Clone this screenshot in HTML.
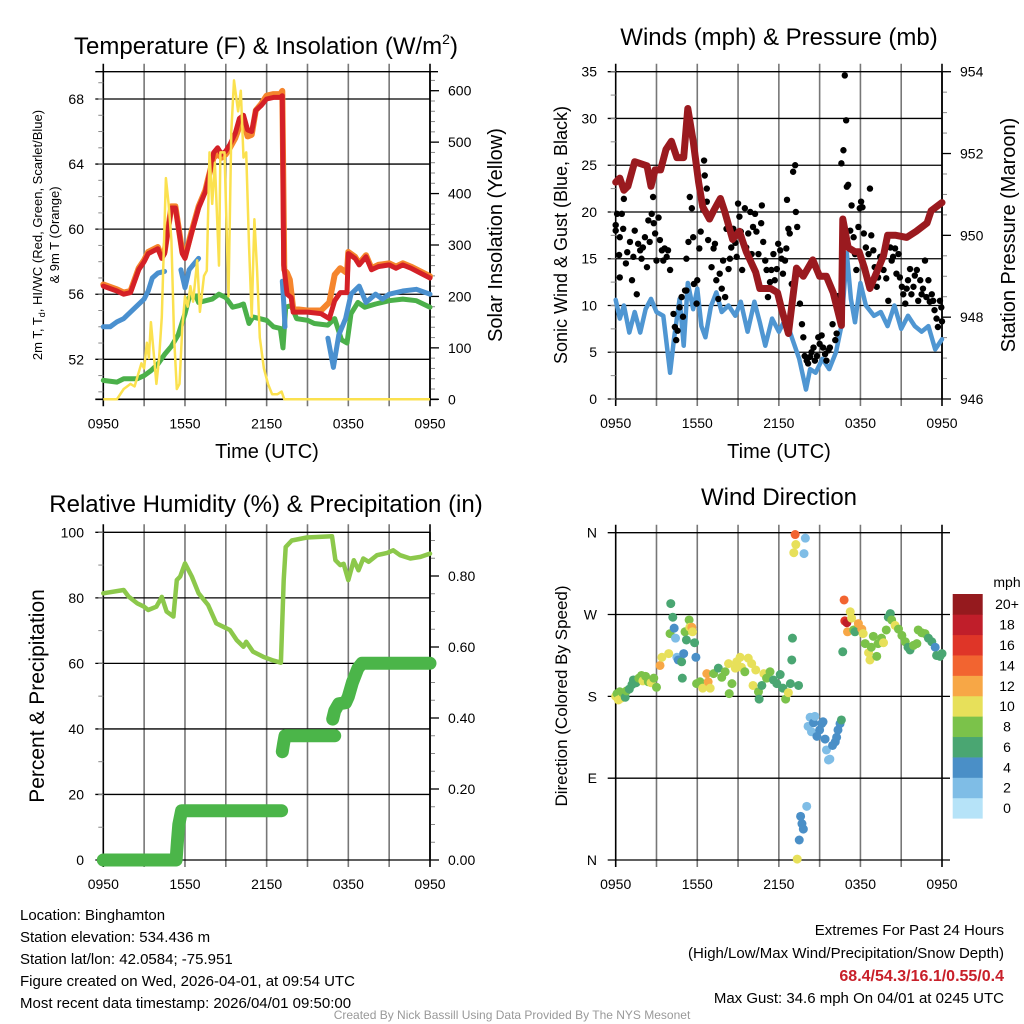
<!DOCTYPE html>
<html><head><meta charset="utf-8">
<style>
body{margin:0;background:#fff;}
svg{display:block;font-family:"Liberation Sans",sans-serif;}
</style></head>
<body>
<svg id="chart" width="1024" height="1024" viewBox="0 0 1024 1024" xmlns="http://www.w3.org/2000/svg">
<rect x="0" y="0" width="1024" height="1024" fill="#fff"/>
<g id="p1"></g>
<g id="p2"></g>
<g id="p3"></g>
<g id="p4"></g>

<text x="266" y="54" font-size="24" text-anchor="middle">Temperature (F) &amp; Insolation (W/m<tspan font-size="14" dy="-10">2</tspan><tspan dy="10">)</tspan></text>
<text x="779" y="45" font-size="24" text-anchor="middle">Winds (mph) &amp; Pressure (mb)</text>
<text x="266" y="512" font-size="24" text-anchor="middle">Relative Humidity (%) &amp; Precipitation (in)</text>
<text x="779" y="505" font-size="24" text-anchor="middle">Wind Direction</text>

<text x="267" y="458" font-size="20" text-anchor="middle">Time (UTC)</text>
<text x="779" y="458" font-size="20" text-anchor="middle">Time (UTC)</text>

<text transform="translate(42,235) rotate(-90)" font-size="13" text-anchor="middle">2m T, T<tspan font-size="9" dy="3">d</tspan><tspan dy="-3">, HI/WC (Red, Green, Scarlet/Blue)</tspan></text>
<text transform="translate(59,235) rotate(-90)" font-size="13" text-anchor="middle">&amp; 9m T (Orange)</text>
<text transform="translate(502,235) rotate(-90)" font-size="20" text-anchor="middle">Solar Insolation (Yellow)</text>
<text transform="translate(567,235) rotate(-90)" font-size="18" text-anchor="middle">Sonic Wind &amp; Gust (Blue, Black)</text>
<text transform="translate(1015,235) rotate(-90)" font-size="20" text-anchor="middle">Station Pressure (Maroon)</text>
<text transform="translate(44,696) rotate(-90)" font-size="21" text-anchor="middle">Percent &amp; Precipitation</text>
<text transform="translate(567,696) rotate(-90)" font-size="17" text-anchor="middle">Direction (Colored By Speed)</text>

<g font-size="15">
<text x="20" y="920">Location: Binghamton</text>
<text x="20" y="942">Station elevation: 534.436 m</text>
<text x="20" y="964">Station lat/lon: 42.0584; -75.951</text>
<text x="20" y="986">Figure created on Wed, 2026-04-01, at 09:54 UTC</text>
<text x="20" y="1008">Most recent data timestamp: 2026/04/01 09:50:00</text>
</g>
<g font-size="15" text-anchor="end">
<text x="1004" y="935">Extremes For Past 24 Hours</text>
<text x="1004" y="958">(High/Low/Max Wind/Precipitation/Snow Depth)</text>
<text x="1004" y="981" fill="#c8202a" font-weight="bold" font-size="16">68.4/54.3/16.1/0.55/0.4</text>
<text x="1004" y="1003">Max Gust: 34.6 mph On 04/01 at 0245 UTC</text>
</g>
<text x="512" y="1019" font-size="12" fill="#999" text-anchor="middle">Created By Nick Bassill Using Data Provided By The NYS Mesonet</text>
</svg>

<script>
// ---------- data ----------
const timeTicks = ["0950","1550","2150","0350","0950"];
// Panel 1 temperatures (hours since 0950, degF)
const redH = [0,1,1.5,2,2.6,3,3.3,4,4.3,4.5,5,5.3,5.8,6,6.5,7,7.5,7.7,8.1,8.4,8.7,9,9.3,9.7,10,10.3,10.6,10.9,11.2,11.6,12,12.5,13,13.15,13.25,13.5,13.8,13.95,15,16,16.6,17,17.4,17.9,18.0,18.5,18.8,19.3,19.7,20.2,21,21.5,22,22.6,23.3,24];
const redV = [56.5,56.2,56.0,56.1,57.5,58.0,58.5,58.8,58.2,58.5,61.3,61.3,58.5,58.2,59.8,61.3,62.3,63.0,64.7,65.0,64.6,64.8,65.2,65.9,66.8,67.0,66.1,66.0,67.3,67.6,68.0,68.1,68.1,68.2,57.8,56.0,55.8,54.9,54.9,54.8,54.5,55.6,56.1,56.1,58.5,58.2,57.8,58.3,57.5,57.7,57.8,57.6,57.8,57.6,57.3,57.0];
const orangeH = [0,1,1.5,2,2.6,3,3.3,4,4.3,4.5,5,5.3,5.8,6,6.5,7,7.5,7.7,8.1,8.4,8.7,9,9.3,9.7,10,10.3,10.6,10.9,11.2,11.6,12,12.5,13,13.15,13.3,13.5,13.7,13.95,15,16,16.6,17,17.4,17.9,18.0,18.5,18.8,19.3,19.7,20.2,21,21.5,22,22.6,23.3,24];
const orangeV = [56.6,56.3,56.1,56.2,57.6,58.1,58.6,58.9,58.3,58.6,61.4,61.4,58.6,58.3,59.9,61.4,62.4,63.1,64.4,64.6,64.4,64.6,65.0,65.6,66.3,66.6,65.7,65.8,67.3,67.7,68.2,68.3,68.3,68.5,57.5,57.3,56.9,55.1,55.0,55.0,55.5,57.2,57.6,57.3,58.6,58.3,57.9,58.4,57.6,57.8,57.9,57.7,57.9,57.7,57.4,57.1];
const blueTH = [0,0.5,1,1.5,2,2.5,3,3.3,3.6,4,4.5,null,5.7,6.0,6.3,6.6,7.0,null,13.15,13.25,13.35,null,16.5,16.9,17.3,17.8,18.2,18.8,19.3,20,20.5,21,22,23,24];
const blueTV = [54.0,54.0,54.3,54.5,54.9,55.3,55.7,56.2,57.0,57.3,57.4,null,57.5,56.4,57.5,57.8,58.2,null,56.8,55.5,54.0,null,53.3,51.5,53.5,54.5,56.0,56.5,55.5,56.0,55.7,56.0,56.2,56.3,56.0];
const greenH = [0,1,1.5,2.5,3,3.5,4,4.5,5,5.5,6,6.3,6.8,7,8,8.5,9,9.5,10,10.3,10.7,11,12,12.5,13,13.2,13.4,13.8,14.2,15,15.5,16.5,17,17.5,17.9,18.2,18.7,19.2,20,21,22,23,24];
const greenV = [50.7,50.6,50.8,50.8,51.0,51.3,51.7,52.3,52.8,53.5,54.8,55.8,55.9,55.5,55.7,56.0,55.8,55.2,55.3,55.4,54.2,54.6,54.4,54.0,53.9,52.7,55.2,55.3,54.5,54.4,54.2,54.1,54.5,53.2,53.0,54.8,55.5,55.2,55.4,55.6,55.7,55.6,55.2];
const solarH = [0,1,1.5,2,2.3,2.8,3.0,3.2,3.35,3.5,3.7,3.9,4.1,4.3,4.6,4.8,5.0,5.2,5.4,5.6,5.8,6.0,6.2,6.4,6.6,6.9,7.1,7.4,7.6,7.8,8.0,8.2,8.5,8.6,8.9,9.2,9.4,9.6,9.9,10.1,10.3,10.5,10.7,10.9,11.1,11.3,11.5,11.8,12.1,12.4,12.8,13.1,13.3,24];
const solarV = [0,0,20,30,25,70,60,110,80,150,90,30,80,160,430,380,310,120,20,30,140,200,180,220,190,270,170,240,250,480,380,460,260,480,480,200,520,620,560,600,470,480,300,160,350,250,120,60,30,10,10,15,0,0];
const tempTicks = [52,56,60,64,68];
const solarTicks = [0,100,200,300,400,500,600];
// Panel 2
const pressH = [0,0.3,0.6,0.9,1.4,2.3,2.6,2.9,3.3,3.7,4.1,4.5,5.0,5.3,5.7,6.1,6.4,6.9,7.2,7.7,8.0,8.6,9.1,9.6,10.3,10.6,11.4,11.9,12.2,12.7,13.0,13.3,13.8,14.5,15.0,15.5,16.0,16.6,16.7,17.1,17.6,17.9,18.3,18.7,19.2,19.7,20.0,20.6,21.4,22.1,22.9,23.2,24];
const pressV = [951.3,951.4,951.1,951.2,951.8,951.7,951.2,951.6,951.6,952.1,952.3,951.9,951.9,953.1,952.3,951.3,950.7,950.4,950.6,950.9,950.6,949.9,950.1,949.6,949.1,948.7,948.7,948.6,948.2,947.6,948.4,949.2,949.0,949.4,949.0,949.0,948.6,947.8,950.4,949.7,949.6,949.6,949.2,948.7,949.1,949.5,950.0,950.0,949.95,950.1,950.3,950.6,950.8];
const windH = [0,0.3,0.6,1,1.4,1.8,2.2,2.6,3,3.5,4,4.3,4.7,5.0,5.3,5.7,6,6.3,6.6,7,7.4,7.8,8.3,8.8,9.2,9.7,10.2,10.6,11.0,11.5,12,12.5,13,13.5,14,14.3,14.7,15.2,15.7,16.2,16.6,17.0,17.3,17.6,18.0,18.4,19,19.5,20,20.5,21,21.5,22,22.5,23,23.5,24];
const windV = [10.6,8.6,10.0,7.1,9.3,7.1,9.6,10.7,9.3,8.9,2.8,6.6,10.7,5.7,12.4,9.6,11.8,7.8,6.6,9.9,11.4,9.3,10.0,8.9,10.4,7.2,10.4,8.2,5.7,8.6,7.2,8.6,6.4,4.3,1.0,3.2,2.8,4.3,3.2,5.0,7.8,15.6,10.7,8.2,12.4,10.0,8.9,9.3,7.8,10.0,7.5,8.9,7.8,7.2,7.8,5.3,6.4];
const gustH = [0,0,0.1,0.25,0.3,0.3,0.45,0.55,0.6,0.75,0.85,1.05,1.2,1.3,1.4,1.55,1.65,1.8,1.9,2.0,2.15,2.3,2.4,2.5,2.65,2.75,2.8,2.9,3.0,3.15,3.25,3.4,3.5,3.6,3.75,3.85,4.0,4.25,4.35,4.45,4.55,4.7,4.85,4.95,5.1,5.2,5.2,5.35,5.45,5.6,5.7,5.75,5.95,6.0,6.15,6.25,6.45,6.5,6.55,6.7,6.7,6.8,7.05,7.2,7.3,7.4,7.55,7.65,7.8,7.9,8.05,8.15,8.3,8.4,8.5,8.65,8.8,8.9,9.0,9.1,9.2,9.3,9.5,9.6,9.75,9.9,10.0,10.1,10.25,10.35,10.5,10.7,10.75,10.85,11.0,11.1,11.2,11.35,11.45,11.6,11.7,11.85,11.95,12.1,12.2,12.3,12.45,12.55,12.6,12.7,12.8,12.95,13.05,13.2,13.25,13.35,13.55,13.7,13.8,13.9,14.05,14.15,14.3,14.4,14.55,14.65,14.8,14.9,15.0,15.15,15.25,15.4,15.5,15.65,15.75,15.95,16.15,16.25,16.35,16.6,16.75,16.85,16.95,17.0,17.1,17.25,17.35,17.5,17.6,17.7,17.85,17.95,18.05,18.15,18.25,18.4,18.6,18.7,18.8,18.95,19.05,19.2,19.3,19.45,19.7,19.9,20.05,20.2,20.3,20.4,20.55,20.65,20.8,20.9,21.05,21.15,21.3,21.4,21.5,21.65,21.75,21.9,22.0,22.15,22.25,22.4,22.5,22.6,22.75,22.85,23.0,23.1,23.25,23.35,23.45,23.6,23.7,23.85,23.95,24];
const gustV = [18,18.6,19.8,15.4,13,17.3,19.8,18.2,21.4,14.5,15.7,16.8,12.7,15.2,18,11.2,16.6,15.9,15,16.2,17.3,14.1,19.1,16.8,19.8,21.6,18.8,17.7,14.8,19.4,17,15.9,14.8,16.1,15.2,15.9,13.8,9.1,7.7,6.3,7.3,9.8,10.9,8.8,11.6,15,11.6,16.8,21.6,20.4,17.3,12.3,10.2,12.7,16.1,17.9,20.2,25.5,23.9,22.5,21.1,17,14.1,16.1,16.6,12.7,10.7,13.4,11.8,14.8,10.9,18.2,13.9,15,16.2,18.2,16.7,15.2,20.9,19.5,17.9,13.8,20.4,16.2,17.7,20,15.5,18.4,19.8,17.9,15.5,18.8,20.7,16.8,14.8,13.8,10.9,12.5,13.8,15.5,12.7,13.9,16.6,15.9,15,13.4,14.8,16.1,21.3,18.2,17.7,12.3,24.3,25,20,18.4,10.2,8.0,6.6,4.6,4.1,3.8,4.5,5,5.5,4.1,4.6,6.6,5.9,6.8,5.5,4.8,4.1,5.2,5.5,8.0,6.3,7,11,25.2,26.6,34.6,29.8,22.7,22.9,18,20.7,17.3,15.5,13.8,18.4,20.4,21.1,20.5,17.7,16.2,15.5,22.5,17.5,15.9,14.1,12,13,15.2,13.8,12.9,10.5,16.2,14.8,15.2,16.1,13.4,15.5,13,12,11.2,10.2,11.8,12.7,13.9,11.2,12,13.2,13.8,10.5,12.7,11.2,11.8,14.8,10.9,12.7,10.4,11.2,10.5,9.5,8.6,7.7,10.5,9.8,8.3];
const windTicks = [0,5,10,15,20,25,30,35];
const pressTicks = [946,948,950,952,954];
// Panel 3
const rhH = [0,1.5,1.85,2.5,3.0,3.3,3.9,4.3,4.65,5.15,5.4,5.65,6.0,6.5,7.0,7.7,8.3,8.8,9.3,9.8,10.3,10.5,11.0,11.75,12.4,13.05,13.25,13.4,13.85,14.95,16.8,17.05,17.4,17.65,18.0,18.4,18.75,19.1,19.5,20.1,20.85,21.3,21.8,22.55,23.3,24];
const rhV = [81.4,82.4,80.4,78.3,77.3,76.3,77.3,80.3,75.8,74.3,85.4,86.5,90.5,86.5,81.4,77.8,72.2,71.2,70.2,67.1,65.1,66.6,63.6,62.0,61.0,60.2,85.4,95.5,97.5,98.4,98.8,91.5,90.0,90.4,85.4,91.5,88.4,92.0,91.0,93.0,93.7,94.5,93.0,92.0,92.5,93.5];
const precipH = [0,5.35,5.45,5.55,5.75,13.1,13.2,13.15,13.25,13.35,17.0,16.85,17.0,17.3,17.8,18.0,18.3,18.7,19.0,24];
const precipV = [0,0,0.055,0.10,0.139,0.139,0.235,0.305,0.33,0.35,0.35,0.397,0.42,0.44,0.443,0.46,0.50,0.54,0.554,0.554];
const precipSegBreak = [false,false,false,false,false,false,true,true,false,false,false,true,false,false,false,false,false,false,false,false];
const rhTicks = [0,20,40,60,80,100];
const precipTicks = ["0.00","0.20","0.40","0.60","0.80"];
// Panel 4
const dirH = [0,0.1,0.2,0.3,0.4,0.5,0.7,0.8,1.0,1.2,1.3,1.5,1.7,1.9,2.0,2.2,2.4,2.6,2.8,3.0,3.26,3.4,3.9,4.05,4.2,4.0,4.3,4.4,4.5,4.6,4.85,4.9,5.0,5.1,5.2,5.4,5.45,5.6,5.65,5.8,5.9,5.95,6.2,6.4,6.7,6.8,6.95,7.2,7.55,7.8,8.05,8.3,8.35,8.55,8.8,8.9,9.15,9.25,9.5,9.75,10.0,10.1,10.3,10.5,10.55,10.75,10.9,11.1,11.35,11.6,11.85,12.1,12.3,12.5,12.7,12.85,12.95,13.0,13.1,13.2,13.25,13.35,13.45,13.5,13.6,13.7,13.8,13.85,13.95,14.05,14.15,14.3,14.4,14.55,14.65,14.8,15.0,15.15,15.25,15.4,15.5,15.65,15.75,15.95,16.15,16.25,16.35,16.5,16.6,16.7,16.8,16.85,17.0,17.05,17.25,17.35,17.5,17.6,17.85,18.1,18.2,18.35,18.6,18.7,18.8,18.95,19.2,19.3,19.55,19.7,19.9,20.05,20.2,20.3,20.55,20.8,21.05,21.3,21.5,21.65,21.9,22.15,22.25,22.5,22.75,23.0,23.25,23.5,23.6,23.85,24];
const dirV = [180,183,176,185,178,184,179,186,188,193,198,195,200,203,197,202,196,195,200,190,214,223,227,282,267,249,255,244,223,220,218,200,227,251,242,264,256,256,251,239,223,194,196,189,205,196,189,205,211,201,207,216,183,194,211,218,223,212,207,222,216,192,209,185,177,192,205,200,207,198,194,204,189,177,184,194,220,244,338,358,347,1,192,22,48,40,34,337,354,59,147,157,141,151,158,136,143,150,152,133,121,110,111,126,130,135,143,150,154,229,286,263,261,251,273,266,253,251,260,254,249,238,228,220,234,246,224,238,244,239,253,267,271,264,258,254,247,240,234,231,236,238,253,250,249,244,240,234,225,224,227];
const dirSpd = [10,9,10,8,10,9,7,8,7,6,6,7,8,8,10,8,8,10,9,8,12,10,10,6,6,8,4,2,2,4,6,6,4,8,6,8,10,12,10,6,4,8,8,10,12,12,10,8,6,8,8,10,8,8,10,10,10,10,8,10,10,10,10,8,6,6,10,8,8,6,6,6,6,8,10,6,6,6,10,14,10,10,6,4,4,4,4,2,2,2,2,2,2,4,2,4,4,4,4,4,2,2,2,4,4,4,4,4,6,6,14,16,18,12,10,10,8,6,12,12,10,8,10,10,8,8,8,8,8,10,8,6,6,8,10,8,8,8,6,6,8,8,8,8,8,6,6,4,6,6,6];
const dirTicks = ["N","E","S","W","N"];
const speedBins = ["0","2","4","6","8","10","12","14","16","18","20+"];
const speedColors = ["#b6e3f8","#7fbde6","#4a8fc7","#4aa672","#7bc24a","#e7e05a","#f7a746","#f26430","#df3528","#c01e2a","#951a1e"];

// ---------- helpers ----------
const NS = "http://www.w3.org/2000/svg";
function mk(parent, tag, attrs, txt){
  const el = document.createElementNS(NS, tag);
  for (const k in attrs) el.setAttribute(k, attrs[k]);
  if (txt !== undefined) el.textContent = txt;
  parent.appendChild(el);
  return el;
}
function xScale(P){ return h => P.x0 + (P.x1 - P.x0) * h / 24; }
function lin(d0, d1, r0, r1){ return v => r0 + (v - d0) * (r1 - r0) / (d1 - d0); }
function pathFrom(H, V, xf, yf){
  let d = "", pen = false;
  for (let i = 0; i < H.length; i++){
    if (H[i] === null || V[i] === null){ pen = false; continue; }
    d += (pen ? "L" : "M") + xf(H[i]).toFixed(1) + "," + yf(V[i]).toFixed(1);
    pen = true;
  }
  return d;
}
function frame(g, P, name){
  const X = xScale(P);
  const grid = mk(g, "g", {});
  
  
  for (let i = 0; i <= 8; i++){
    const x = X(i * 3);
    const ln = mk(grid, "line", {x1:x, x2:x, y1:P.y0 - 8, y2:P.y1 + 7, stroke: (i===0||i===8)?"#000":"#777", "stroke-width": 1.6});
    
    
  }
  for (let i = 0; i < timeTicks.length; i++){
    const t = mk(g, "text", {x: X(i * 6), y: P.y1 + 29, "font-size": 14, "text-anchor": "middle"}, timeTicks[i]);
    
    
  }
}
function hline(g, P, y, xr){
  const l = mk(g, "line", {x1: P.x0 - 8, x2: xr, y1: y, y2: y, stroke: "#000", "stroke-width": 1.3});
  
  
}
function minorTicks(g, x, ys, dir){
  ys.forEach(y => {
    const l = mk(g, "line", {x1: x, x2: x + dir * 5, y1: y, y2: y, stroke: "#888", "stroke-width": 1});
    
    
  });
}
function leftLabel(g, x, y, s){
  const t = mk(g, "text", {x: x, y: y + 5, "font-size": 14, "text-anchor": "end"}, s);
  
  
}
function rightLabel(g, x, y, s){
  const t = mk(g, "text", {x: x, y: y + 5, "font-size": 14, "text-anchor": "start"}, s);
  
  
}

// ---------- Panel 1 ----------
(function(){
  const g = document.getElementById("p1");
  const P = {x0:103.3, x1:430, y0:71.7, y1:399.3};
  const X = xScale(P);
  const yT = lin(52, 68, 359.3, 99);
  const yS = lin(0, 600, 399.3, 90.7);
  frame(g, P, "temperature");
  hline(g, P, P.y0, P.x1 + 8);
  tempTicks.forEach(v => { hline(g, P, yT(v), P.x1); leftLabel(g, 84, yT(v), String(v)); });
  const minT = []; for (let v = 50; v <= 70; v += 1) if (yT(v) > P.y0 && yT(v) < P.y1) minT.push(yT(v));
  minorTicks(g, P.x0, minT, -1);
  const minS = []; for (let v = 0; v <= 640; v += 20) if (yS(v) >= P.y0) minS.push(yS(v));
  minorTicks(g, P.x1, minS, 1);
  solarTicks.forEach(v => {
    const l = mk(g, "line", {x1:P.x1, x2:P.x1 + 9, y1:yS(v), y2:yS(v), stroke:"#000", "stroke-width":1.3});
    
    
    rightLabel(g, 448, yS(v), String(v));
  });
  const ax = mk(g, "line", {x1:P.x1, x2:P.x1, y1:P.y0, y2:P.y1, stroke:"#000", "stroke-width":1.6});
  
  
  const hb = mk(g, "line", {x1:P.x0-8, x2:P.x1+8, y1:P.y1, y2:P.y1, stroke:"#000", "stroke-width":1.6});
  
  
  const s1 = mk(g, "path", {d: pathFrom(greenH, greenV, X, yT), fill:"none", stroke:"#4bb04a", "stroke-width":5, "stroke-linejoin":"round", "stroke-linecap":"round"});
  
  
  const s2 = mk(g, "path", {d: pathFrom(blueTH, blueTV, X, yT), fill:"none", stroke:"#4a90cf", "stroke-width":5, "stroke-linejoin":"round", "stroke-linecap":"round"});
  
  
  const s3 = mk(g, "path", {d: pathFrom(orangeH, orangeV, X, yT), fill:"none", stroke:"#f5852d", "stroke-width":6, "stroke-linejoin":"round", "stroke-linecap":"round"});
  
  
  const s4 = mk(g, "path", {d: pathFrom(redH, redV, X, yT), fill:"none", stroke:"#d42027", "stroke-width":5, "stroke-linejoin":"round", "stroke-linecap":"round"});
  
  
  const s5 = mk(g, "path", {d: pathFrom(solarH, solarV, X, yS), fill:"none", stroke:"#fbe14f", "stroke-width":2.5, "stroke-linejoin":"round"});
  
  
})();

// ---------- Panel 2 ----------
(function(){
  const g = document.getElementById("p2");
  const P = {x0:615.7, x1:942, y0:71.7, y1:399};
  const X = xScale(P);
  const yW = lin(0, 35, 399, 71.7);
  const yP = lin(946, 954, 399, 71.7);
  frame(g, P, "wind");
  windTicks.forEach(v => { hline(g, P, yW(v), P.x1); leftLabel(g, 597, yW(v), String(v)); });
  const minW = []; for (let v = 0; v <= 35; v += 2.5) minW.push(yW(v));
  minorTicks(g, P.x0, minW, -1);
  const minP = []; for (let v = 946; v <= 954; v += 0.5) minP.push(yP(v));
  minorTicks(g, P.x1, minP, 1);
  pressTicks.forEach(v => {
    const l = mk(g, "line", {x1:P.x1, x2:P.x1 + 9, y1:yP(v), y2:yP(v), stroke:"#000", "stroke-width":1.3});
    
    
    rightLabel(g, 960, yP(v), String(v));
  });
  const ax = mk(g, "line", {x1:P.x1, x2:P.x1, y1:P.y0, y2:P.y1, stroke:"#000", "stroke-width":1.6});
  
  
  const s1 = mk(g, "path", {d: pathFrom(windH, windV, X, yW), fill:"none", stroke:"#4f96d2", "stroke-width":4.5, "stroke-linejoin":"round", "stroke-linecap":"round"});
  
  
  const dots = mk(g, "g", {fill:"#000"});
  
  
  for (let i = 0; i < gustH.length; i++){
    const c = mk(dots, "circle", {cx: X(gustH[i]), cy: yW(gustV[i]), r: 3.2});
    
    
  }
  const s2 = mk(g, "path", {d: pathFrom(pressH, pressV, X, yP), fill:"none", stroke:"#9a1a1f", "stroke-width":7, "stroke-linejoin":"round", "stroke-linecap":"round"});
  
  
})();

// ---------- Panel 3 ----------
(function(){
  const g = document.getElementById("p3");
  const P = {x0:103.3, x1:430, y0:532.3, y1:860};
  const X = xScale(P);
  const yR = lin(0, 100, 860, 532.3);
  const yPr = lin(0, 0.8, 860, 576);
  frame(g, P, "humidity");
  rhTicks.forEach(v => { hline(g, P, yR(v), P.x1); leftLabel(g, 84, yR(v), String(v)); });
  const minR = []; for (let v = 0; v <= 100; v += 10) minR.push(yR(v));
  minorTicks(g, P.x0, minR, -1);
  const minPr = []; for (let v = 0; v <= 0.92; v += 0.05) minPr.push(yPr(v));
  minorTicks(g, P.x1, minPr, 1);
  precipTicks.forEach(s => {
    const v = parseFloat(s);
    const l = mk(g, "line", {x1:P.x1, x2:P.x1 + 9, y1:yPr(v), y2:yPr(v), stroke:"#000", "stroke-width":1.3});
    
    
    rightLabel(g, 448, yPr(v), s);
  });
  const ax = mk(g, "line", {x1:P.x1, x2:P.x1, y1:P.y0, y2:P.y1, stroke:"#000", "stroke-width":1.6});
  
  
  const s1 = mk(g, "path", {d: pathFrom(rhH, rhV, X, yR), fill:"none", stroke:"#8cc84b", "stroke-width":4.5, "stroke-linejoin":"round", "stroke-linecap":"round"});
  
  
  let d = "";
  for (let i = 0; i < precipH.length; i++){
    d += ((i === 0 || precipSegBreak[i]) ? "M" : "L") + X(precipH[i]).toFixed(1) + "," + yPr(precipV[i]).toFixed(1);
  }
  const s2 = mk(g, "path", {d: d, fill:"none", stroke:"#4bb549", "stroke-width":13, "stroke-linejoin":"round", "stroke-linecap":"round"});
  
  
})();

// ---------- Panel 4 ----------
(function(){
  const g = document.getElementById("p4");
  const P = {x0:615.7, x1:942, y0:532.7, y1:860};
  const X = xScale(P);
  const yD = lin(0, 360, 860, 532.7);
  frame(g, P, "direction");
  dirTicks.forEach((s, i) => { const y = yD(i * 90); hline(g, P, y, 950); leftLabel(g, 597, y, s); });
  function colorFor(s){ let k = Math.floor(s / 2); if (k > 10) k = 10; if (k < 0) k = 0; return speedColors[k]; }
  const dots = mk(g, "g", {});
  
  
  for (let i = 0; i < dirH.length; i++){
    const c = mk(dots, "circle", {cx: X(dirH[i]), cy: yD(dirV[i]), r: 4.5, fill: colorFor(dirSpd[i])});
    
    
  }
  const cb = mk(g, "g", {});
  
  
  const top = 594, bot = 818.3, n = speedBins.length, bh = (bot - top) / n;
  for (let i = 0; i < n; i++){
    const y = bot - (i + 1) * bh;
    const r = mk(cb, "rect", {x:952.7, y:y, width:30, height:bh + 0.3, fill:speedColors[i]});
    
    
    const t = mk(cb, "text", {x:1007, y:y + bh / 2 + 5, "font-size":14, "text-anchor":"middle"}, speedBins[i]);
    
    
  }
  const u = mk(cb, "text", {x:1007, y:587, "font-size":14, "text-anchor":"middle"}, "mph");
  
  
})();
</script>
</body></html>
